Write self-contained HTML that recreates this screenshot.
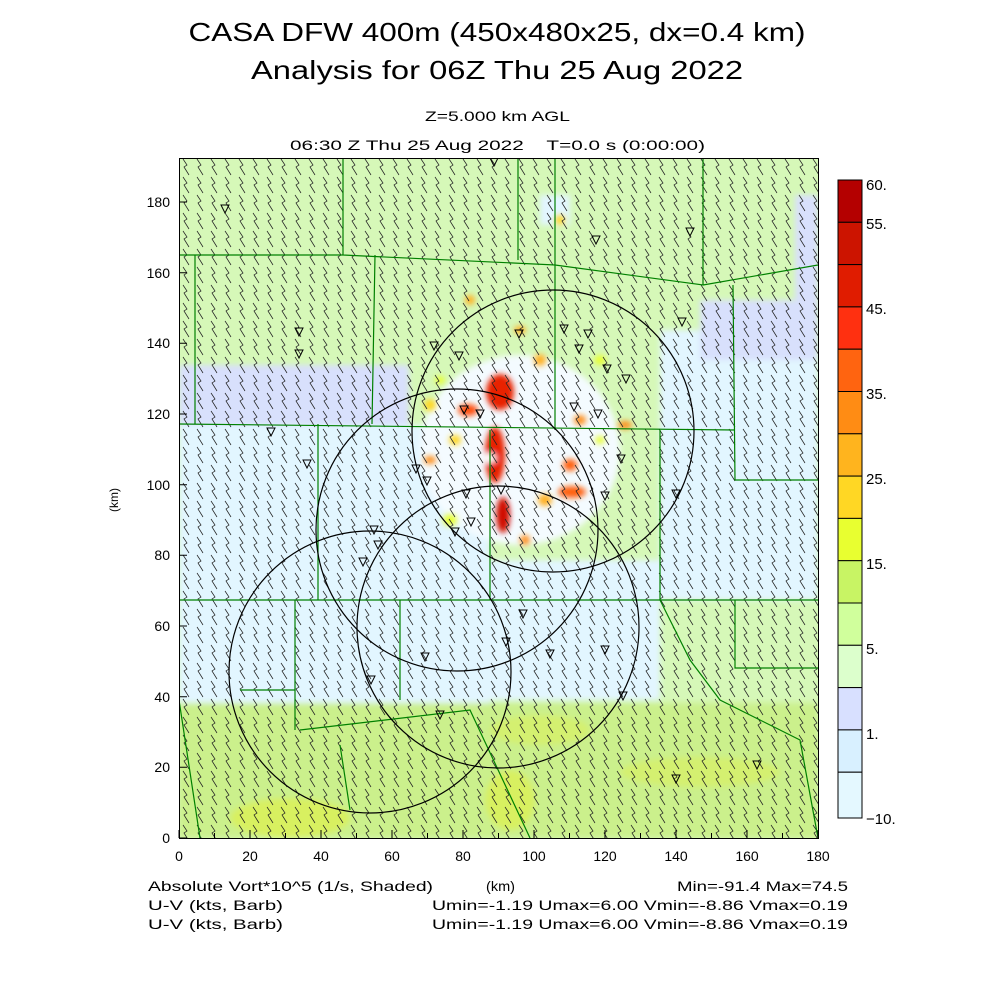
<!DOCTYPE html>
<html><head><style>body{margin:0;background:#fff}svg{display:block}</style></head>
<body>
<svg width="1000" height="1000" xmlns="http://www.w3.org/2000/svg" font-family="Liberation Sans, sans-serif">
<defs>
<pattern id="barb" x="179" y="158" width="14" height="18" patternUnits="userSpaceOnUse">
<path d="M4 1 L8 7 L5 9 L10 17" fill="none" stroke="#222" stroke-width="0.75"/>
</pattern>
<filter id="bl"><feGaussianBlur stdDeviation="3"/></filter>
<filter id="bl2"><feGaussianBlur stdDeviation="3"/></filter>
<clipPath id="pc"><rect x="179" y="158" width="639" height="680"/></clipPath>
</defs>
<g text-anchor="middle" font-size="26">
<text x="497" y="41" textLength="617" lengthAdjust="spacingAndGlyphs">CASA DFW 400m (450x480x25, dx=0.4 km)</text>
<text x="497" y="79" textLength="492" lengthAdjust="spacingAndGlyphs">Analysis for 06Z Thu 25 Aug 2022</text>
</g>
<g font-size="14">
<text x="425" y="121" textLength="145" lengthAdjust="spacingAndGlyphs">Z=5.000 km AGL</text>
<text x="290" y="150" textLength="415" lengthAdjust="spacingAndGlyphs" xml:space="preserve">06:30 Z Thu 25 Aug 2022    T=0.0 s (0:00:00)</text>
</g>
<g clip-path="url(#pc)">
<rect x="179" y="158" width="639" height="680" fill="#d6f8b8"/>
<g filter="url(#bl)">
<rect x="179" y="425" width="311" height="278" fill="#e2f6ff"/>
<rect x="179" y="365" width="230" height="60" fill="#d8e0fc"/>
<rect x="490" y="560" width="170" height="140" fill="#e2f6ff"/>
<rect x="660" y="330" width="158" height="270" fill="#e2f6ff"/>
<rect x="700" y="300" width="118" height="60" fill="#d8e0fc"/>
<rect x="795" y="195" width="23" height="120" fill="#d8e0fc"/>
<rect x="540" y="195" width="30" height="30" fill="#e2f6ff"/>
<ellipse cx="520" cy="450" rx="100" ry="95" fill="#f4fbff"/>
<rect x="179" y="703" width="639" height="135" fill="#cbf08c"/>
<ellipse cx="290" cy="818" rx="60" ry="20" fill="#d8f060"/>
<ellipse cx="510" cy="800" rx="25" ry="30" fill="#d8f060"/>
<ellipse cx="700" cy="772" rx="80" ry="15" fill="#d4f070"/>
<ellipse cx="540" cy="730" rx="50" ry="15" fill="#d4f070"/>
</g>
<g filter="url(#bl2)">
<ellipse cx="500" cy="392" rx="14" ry="18" fill="#e82000"/>
<ellipse cx="468" cy="410" rx="10" ry="6" fill="#ff5010"/>
<ellipse cx="495" cy="455" rx="10" ry="28" fill="#e82000"/>
<ellipse cx="490" cy="458" rx="6" ry="5" fill="#fff"/>
<ellipse cx="503" cy="515" rx="7" ry="18" fill="#d01000"/>
<ellipse cx="572" cy="492" rx="14" ry="6" fill="#ff6010"/>
<ellipse cx="545" cy="500" rx="7" ry="6" fill="#ffb020"/>
<ellipse cx="570" cy="465" rx="7" ry="6" fill="#ff6010"/>
<ellipse cx="580" cy="420" rx="6" ry="5" fill="#ff8c14"/>
<ellipse cx="625" cy="425" rx="7" ry="4" fill="#ff8c14"/>
<ellipse cx="430" cy="460" rx="6" ry="4" fill="#ff8c14"/>
<ellipse cx="520" cy="330" rx="6" ry="4" fill="#ffb020"/>
<ellipse cx="470" cy="300" rx="5" ry="5" fill="#ffb020"/>
<ellipse cx="540" cy="360" rx="6" ry="6" fill="#ffb020"/>
<ellipse cx="430" cy="405" rx="6" ry="6" fill="#ffd724"/>
<ellipse cx="600" cy="360" rx="6" ry="5" fill="#e8ff30"/>
<ellipse cx="450" cy="520" rx="7" ry="6" fill="#e8ff30"/>
<ellipse cx="560" cy="220" rx="5" ry="5" fill="#ffd724"/>
<ellipse cx="455" cy="440" rx="6" ry="5" fill="#ffd724"/>
<ellipse cx="525" cy="540" rx="5" ry="5" fill="#ff8c14"/>
<ellipse cx="600" cy="440" rx="5" ry="4" fill="#e8ff30"/>
<ellipse cx="440" cy="380" rx="5" ry="4" fill="#e8ff30"/>
</g>
<rect x="179" y="158" width="639" height="680" fill="url(#barb)"/>
<g fill="none" stroke="#008000" stroke-width="1.2">
<path d="M179 424 L735 430 M179 255 L343 255 L343 158 M343 255 L555 265 L555 158 M518 158 L518 260 M555 265 L703 285 L703 158 M703 285 L818 265"/>
<path d="M195 255 L195 424 M375 255 L372 424 M555 265 L555 430 M733 285 L735 480 L818 480"/>
<path d="M318 424 L318 600 M490 430 L490 600 M660 430 L660 600 M179 600 L818 600"/>
<path d="M295 600 L295 690 L240 690 M179 700 L200 838 M300 730 L470 710 L530 838 M660 600 L690 660 L720 700 L800 740 L818 838 M818 668 L735 668 L735 600"/>
<path d="M400 600 L400 700 M295 690 L295 730 M340 745 L350 810"/>
</g>
<g fill="none" stroke="#000" stroke-width="1.2">
<circle cx="553" cy="431" r="141"/>
<circle cx="457" cy="530" r="141"/>
<circle cx="498" cy="627" r="141"/>
<circle cx="370" cy="672" r="141"/>
</g>
<g fill="none" stroke="#000" stroke-width="1">
<path d="M0 0 L8 0 L4 8 Z" transform="translate(221,205)"/>
<path d="M0 0 L8 0 L4 8 Z" transform="translate(295,328)"/>
<path d="M0 0 L8 0 L4 8 Z" transform="translate(295,350)"/>
<path d="M0 0 L8 0 L4 8 Z" transform="translate(592,236)"/>
<path d="M0 0 L8 0 L4 8 Z" transform="translate(686,228)"/>
<path d="M0 0 L8 0 L4 8 Z" transform="translate(678,318)"/>
<path d="M0 0 L8 0 L4 8 Z" transform="translate(430,342)"/>
<path d="M0 0 L8 0 L4 8 Z" transform="translate(455,352)"/>
<path d="M0 0 L8 0 L4 8 Z" transform="translate(515,330)"/>
<path d="M0 0 L8 0 L4 8 Z" transform="translate(560,325)"/>
<path d="M0 0 L8 0 L4 8 Z" transform="translate(584,330)"/>
<path d="M0 0 L8 0 L4 8 Z" transform="translate(575,345)"/>
<path d="M0 0 L8 0 L4 8 Z" transform="translate(603,365)"/>
<path d="M0 0 L8 0 L4 8 Z" transform="translate(622,375)"/>
<path d="M0 0 L8 0 L4 8 Z" transform="translate(570,403)"/>
<path d="M0 0 L8 0 L4 8 Z" transform="translate(594,410)"/>
<path d="M0 0 L8 0 L4 8 Z" transform="translate(460,406)"/>
<path d="M0 0 L8 0 L4 8 Z" transform="translate(476,410)"/>
<path d="M0 0 L8 0 L4 8 Z" transform="translate(267,428)"/>
<path d="M0 0 L8 0 L4 8 Z" transform="translate(303,460)"/>
<path d="M0 0 L8 0 L4 8 Z" transform="translate(412,465)"/>
<path d="M0 0 L8 0 L4 8 Z" transform="translate(423,477)"/>
<path d="M0 0 L8 0 L4 8 Z" transform="translate(462,490)"/>
<path d="M0 0 L8 0 L4 8 Z" transform="translate(497,486)"/>
<path d="M0 0 L8 0 L4 8 Z" transform="translate(601,492)"/>
<path d="M0 0 L8 0 L4 8 Z" transform="translate(617,455)"/>
<path d="M0 0 L8 0 L4 8 Z" transform="translate(672,490)"/>
<path d="M0 0 L8 0 L4 8 Z" transform="translate(467,518)"/>
<path d="M0 0 L8 0 L4 8 Z" transform="translate(451,528)"/>
<path d="M0 0 L8 0 L4 8 Z" transform="translate(370,526)"/>
<path d="M0 0 L8 0 L4 8 Z" transform="translate(374,541)"/>
<path d="M0 0 L8 0 L4 8 Z" transform="translate(359,558)"/>
<path d="M0 0 L8 0 L4 8 Z" transform="translate(519,610)"/>
<path d="M0 0 L8 0 L4 8 Z" transform="translate(502,638)"/>
<path d="M0 0 L8 0 L4 8 Z" transform="translate(546,650)"/>
<path d="M0 0 L8 0 L4 8 Z" transform="translate(601,646)"/>
<path d="M0 0 L8 0 L4 8 Z" transform="translate(421,653)"/>
<path d="M0 0 L8 0 L4 8 Z" transform="translate(367,676)"/>
<path d="M0 0 L8 0 L4 8 Z" transform="translate(619,692)"/>
<path d="M0 0 L8 0 L4 8 Z" transform="translate(436,711)"/>
<path d="M0 0 L8 0 L4 8 Z" transform="translate(672,775)"/>
<path d="M0 0 L8 0 L4 8 Z" transform="translate(753,761)"/>
<path d="M0 0 L8 0 L4 8 Z" transform="translate(490,158)"/>
</g>
</g>
<rect x="179.5" y="158.5" width="639" height="680" fill="none" stroke="#000"/>
<g stroke="#000">
<path d="M179 838v-8M214.5 838v-5M250 838v-8M285.5 838v-5M321 838v-8M356.5 838v-5M392 838v-8M427.5 838v-5M463 838v-8M498.5 838v-5M534 838v-8M569.5 838v-5M605 838v-8M640.5 838v-5M676 838v-8M711.5 838v-5M747 838v-8M782.5 838v-5M818 838v-8"/>
<path d="M179 838h8M179 767.3h8M179 696.7h8M179 626h8M179 555.3h8M179 484.7h8M179 414h8M179 343.3h8M179 272.7h8M179 202h8"/>
</g>
<g font-size="14" text-anchor="middle">
<text x="179" y="861">0</text><text x="250" y="861">20</text><text x="321" y="861">40</text><text x="392" y="861">60</text><text x="463" y="861">80</text><text x="534" y="861">100</text><text x="605" y="861">120</text><text x="676" y="861">140</text><text x="747" y="861">160</text><text x="818" y="861">180</text>
</g>
<g font-size="14" text-anchor="end">
<text x="170" y="843">0</text><text x="170" y="772">20</text><text x="170" y="702">40</text><text x="170" y="631">60</text><text x="170" y="560">80</text><text x="170" y="490">100</text><text x="170" y="419">120</text><text x="170" y="348">140</text><text x="170" y="278">160</text><text x="170" y="207">180</text>
</g>
<text x="118" y="500" font-size="12" text-anchor="middle" transform="rotate(-90 118 500)">(km)</text>
<g stroke="#000" stroke-width="1">
<rect x="838" y="180" width="24" height="42.3" fill="#b40000"/>
<rect x="838" y="222.3" width="24" height="42.3" fill="#cc1400"/>
<rect x="838" y="264.6" width="24" height="42.3" fill="#e01c00"/>
<rect x="838" y="306.9" width="24" height="42.3" fill="#ff3010"/>
<rect x="838" y="349.2" width="24" height="42.3" fill="#ff6410"/>
<rect x="838" y="391.5" width="24" height="42.3" fill="#ff8c14"/>
<rect x="838" y="433.8" width="24" height="42.3" fill="#ffb41e"/>
<rect x="838" y="476.1" width="24" height="42.3" fill="#ffd724"/>
<rect x="838" y="518.4" width="24" height="42.3" fill="#e8ff30"/>
<rect x="838" y="560.7" width="24" height="42.3" fill="#c8f464"/>
<rect x="838" y="603" width="24" height="42.3" fill="#d0ff9c"/>
<rect x="838" y="645.3" width="24" height="42.3" fill="#dcffcc"/>
<rect x="838" y="687.6" width="24" height="42.3" fill="#d8e0ff"/>
<rect x="838" y="729.9" width="24" height="42.3" fill="#d8f0ff"/>
<rect x="838" y="772.2" width="24" height="45.8" fill="#e4f8ff"/>
</g>
<g font-size="15">
<text x="866" y="190">60.</text><text x="866" y="229">55.</text><text x="866" y="314">45.</text><text x="866" y="399">35.</text><text x="866" y="484">25.</text><text x="866" y="569">15.</text><text x="866" y="654">5.</text><text x="866" y="739">1.</text><text x="866" y="824">−10.</text>
</g>
<g font-size="14">
<text x="148" y="891" textLength="285" lengthAdjust="spacingAndGlyphs">Absolute Vort*10^5 (1/s, Shaded)</text>
<text x="486" y="891" textLength="29" lengthAdjust="spacingAndGlyphs">(km)</text>
<text x="677" y="891" textLength="171" lengthAdjust="spacingAndGlyphs">Min=-91.4 Max=74.5</text>
<text x="148" y="910" textLength="135" lengthAdjust="spacingAndGlyphs">U-V (kts, Barb)</text>
<text x="432" y="910" textLength="416" lengthAdjust="spacingAndGlyphs">Umin=-1.19 Umax=6.00 Vmin=-8.86 Vmax=0.19</text>
<text x="148" y="929" textLength="135" lengthAdjust="spacingAndGlyphs">U-V (kts, Barb)</text>
<text x="432" y="929" textLength="416" lengthAdjust="spacingAndGlyphs">Umin=-1.19 Umax=6.00 Vmin=-8.86 Vmax=0.19</text>
</g>
</svg>
</body></html>
